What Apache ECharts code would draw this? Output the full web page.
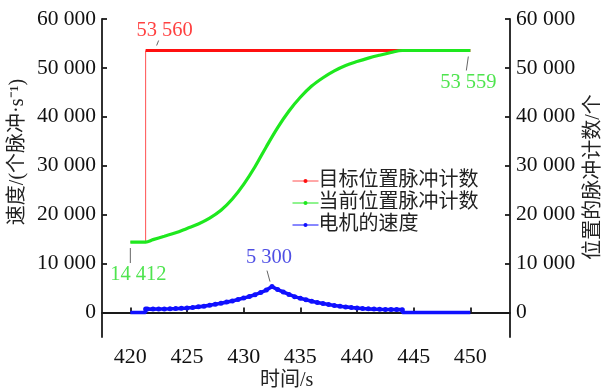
<!DOCTYPE html>
<html>
<head>
<meta charset="utf-8">
<script src="https://cdn.jsdelivr.net/npm/echarts@6/dist/echarts.min.js"></script>
<style>
  html, body { margin: 0; padding: 0; background: #fff; }
  #chart { width: 602px; height: 389px; }
</style>
</head>
<body>
<div id="chart"></div>
<script>
// Axis ticks
const timeTicks = [420, 425, 430, 435, 440, 445, 450];
const countTicks = [0, 10000, 20000, 30000, 40000, 50000, 60000];

// 目标位置脉冲计数 (target pulse count): jumps to the new set-point
const targetTime  = [420, 421.35, 421.35, 450];
const targetCount = [14412, 14412, 53560, 53560];

// 当前位置脉冲计数 (current pulse count)
const currentTime  = [420, 421.35, 422, 423, 424, 425, 426, 427, 428, 429, 430,
                      431, 432, 433, 434, 435, 436, 437, 438, 439, 440,
                      441, 442, 443, 444, 450];
const currentCount = [14412, 14412, 14900, 15600, 16300, 17200, 18100, 19300, 20900, 23200, 26200,
                      29800, 33900, 37800, 41200, 44000, 46300, 48000, 49400, 50500, 51300,
                      52000, 52600, 53150, 53559, 53559];

// 电机的速度 (motor speed, pulses per second)
const speedTime  = [420, 421.35, 421.35, 421.5, 422, 422.5, 423, 423.5, 424, 424.5, 425,
                    425.5, 426, 426.5, 427, 427.5, 428, 428.5, 429, 429.5, 430,
                    430.5, 431, 431.5, 432, 432.5, 433, 433.5, 434, 434.5, 435,
                    435.5, 436, 436.5, 437, 437.5, 438, 438.5, 439, 439.5, 440,
                    440.5, 441, 441.5, 442, 442.5, 443, 443.5, 444, 444, 450];
const speedValue = [0, 0, 700, 700, 700, 710, 730, 760, 800, 860, 930,
                    1030, 1160, 1310, 1480, 1680, 1900, 2130, 2380, 2650, 2950,
                    3280, 3650, 4080, 4600, 5300, 4700, 4200, 3700, 3250, 2900,
                    2600, 2300, 2050, 1830, 1630, 1450, 1290, 1150, 1020, 910,
                    820, 750, 700, 660, 630, 610, 600, 590, 0, 0];

const seriesNames = ['目标位置脉冲计数', '当前位置脉冲计数', '电机的速度'];
const colors = ['#ff1010', '#1ee81e', '#1010ff'];

const fmt = v => String(v).replace(/\B(?=(\d{3})+(?!\d))/g, ' ');
const pairs = (xs, ys) => xs.map((x, i) => [x, ys[i]]);

const serif = 'Liberation Serif, Times New Roman, serif';
const cjk = 'Liberation Serif, Noto Sans CJK SC, serif';

const targetData = pairs(targetTime, targetCount);
const currentData = pairs(currentTime, currentCount);
const speedData = pairs(speedTime, speedValue);

// Points called out with their values; dx/dy place the text,
// lead gives the short leader stroke relative to the point (px)
const peakIdx = speedValue.indexOf(Math.max(...speedValue));
const callouts = [
  { value: targetData[2], color: '#ff1010', axis: 1, dx: 19, dy: -20, lead: [11, -5, 13, -10] },
  { value: currentData[currentData.length - 1], color: '#22dd22', axis: 1, dx: -2, dy: 32, lead: [-2, 6, -4, 20] },
  { value: currentData[0], color: '#22dd22', axis: 1, dx: 8, dy: 33, lead: [0, 6, 0, 21] },
  { value: speedData[peakIdx], color: '#2222dd', axis: 0, dx: -3, dy: -29, lead: [-2, -5, -5, -16] }
];

function calloutSeries(yAxisIndex) {
  const items = callouts.filter(c => c.axis === yAxisIndex);
  return {
    type: 'scatter',
    yAxisIndex: yAxisIndex,
    symbolSize: 0,
    silent: true,
    z: 10,
    data: items.map(c => ({
      value: c.value,
      label: { color: c.color }
    })),
    label: {
      show: true,
      position: 'inside',
      fontFamily: serif,
      fontSize: 20.5,
      formatter: p => fmt(p.value[1])
    },
    labelLayout: p => ({ dx: items[p.dataIndex].dx, dy: items[p.dataIndex].dy })
  };
}

const axisLineStyle = { lineStyle: { color: '#1a1a1a', width: 1.8 } };
const tickStyle = { inside: true, length: 5, lineStyle: { color: '#1a1a1a', width: 1.8 } };

function yAxis(position) {
  return {
    type: 'value',
    position: position,
    min: -5000,
    max: 60000,
    axisLine: Object.assign({ show: true }, axisLineStyle),
    axisTick: Object.assign({ show: true, customValues: countTicks }, tickStyle),
    axisLabel: {
      customValues: countTicks,
      formatter: fmt,
      fontFamily: serif,
      fontSize: 21.5,
      color: '#111',
      margin: 6
    },
    splitLine: { show: false }
  };
}

const chart = echarts.init(document.getElementById('chart'), null, { renderer: 'canvas' });

chart.setOption({
  animation: false,
  backgroundColor: '#fff',
  grid: { left: 102, right: 92, top: 19, bottom: 52, containLabel: false },
  xAxis: {
    type: 'value',
    min: 417.5,
    max: 453.5,
    axisLine: Object.assign({ show: true }, axisLineStyle),
    axisTick: Object.assign({ show: true, customValues: timeTicks }, tickStyle),
    axisLabel: {
      customValues: timeTicks,
      fontFamily: serif,
      fontSize: 22,
      color: '#111',
      margin: 9
    },
    splitLine: { show: false }
  },
  yAxis: [yAxis('left'), yAxis('right')],
  legend: {
    orient: 'vertical',
    left: 287,
    top: 166,
    itemWidth: 26,
    itemHeight: 5,
    itemGap: 2,
    data: seriesNames,
    lineStyle: { width: 1 },
    textStyle: { fontFamily: cjk, fontSize: 20, lineHeight: 20, color: '#222', padding: [0, 0, 0, -5] }
  },
  series: [
    {
      name: seriesNames[0],
      type: 'line',
      yAxisIndex: 1,
      data: targetData.slice(0, 3),
      symbol: 'circle', symbolSize: 3, showSymbol: false,
      lineStyle: { width: 1, color: '#ff5050' },
      itemStyle: { color: colors[0] },
      silent: true
    },
    {
      name: seriesNames[0],
      type: 'line',
      yAxisIndex: 1,
      data: targetData.slice(2),
      symbol: 'circle', symbolSize: 3, showSymbol: false,
      lineStyle: { width: 3, color: colors[0] },
      itemStyle: { color: colors[0] },
      silent: true
    },
    {
      name: seriesNames[1],
      type: 'line',
      yAxisIndex: 1,
      data: currentData,
      smooth: 0.35,
      symbol: 'circle', symbolSize: 3, showSymbol: false,
      lineStyle: { width: 3.2, color: colors[1] },
      itemStyle: { color: colors[1] },
      silent: true
    },
    {
      name: seriesNames[2],
      type: 'line',
      yAxisIndex: 0,
      data: speedData,
      symbol: 'circle',
      symbolSize: v => (v[1] > 0 ? 5 : 0),
      showSymbol: true,
      lineStyle: { width: 3.6, color: colors[2] },
      itemStyle: { color: colors[2] },
      silent: true
    },
    calloutSeries(1),
    calloutSeries(0)
  ]
});

// Axis names plus short gray leader strokes placed from each called-out point's pixel position
const axisNames = [
  {
    type: 'text', id: 'xname', left: 290 - 30, top: 371,
    style: { text: '时间/s', font: '20px ' + cjk, fill: '#222' }
  },
  {
    type: 'text', id: 'yname-left', x: 18, y: 152, rotation: Math.PI / 2,
    style: { text: '速度/(个脉冲·s⁻¹)', font: '20px ' + cjk, fill: '#222',
             align: 'center', verticalAlign: 'middle' }
  },
  {
    type: 'text', id: 'yname-right', x: 594, y: 177, rotation: Math.PI / 2,
    style: { text: '位置的脉冲计数/个', font: '20px ' + cjk, fill: '#222',
             align: 'center', verticalAlign: 'middle' }
  }
];
const leaders = callouts.map((c, i) => {
  const p = chart.convertToPixel({ xAxisIndex: 0, yAxisIndex: c.axis }, c.value);
  return {
    type: 'line',
    id: 'leader-' + i,
    silent: true,
    z: 20,
    shape: { x1: p[0] + c.lead[0], y1: p[1] + c.lead[1], x2: p[0] + c.lead[2], y2: p[1] + c.lead[3] },
    style: { stroke: '#666', lineWidth: 1 }
  };
});
chart.setOption({ graphic: axisNames.concat(leaders) });
</script>
</body>
</html>
